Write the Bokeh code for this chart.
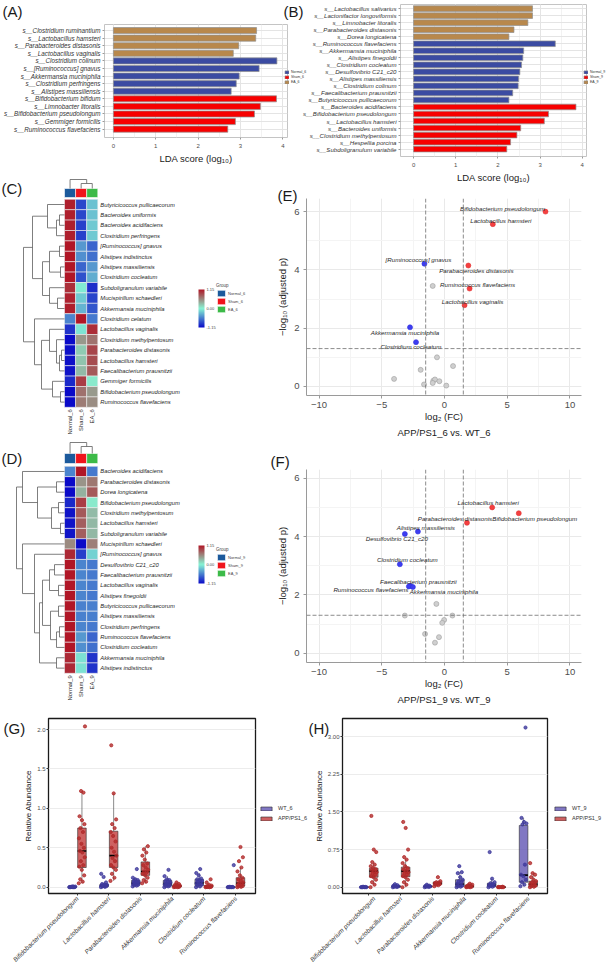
import math
from bokeh.plotting import figure
from bokeh.layouts import row, column
from bokeh.models import (ColumnDataSource, Range1d, FixedTicker, SingleIntervalTicker,
                          Legend, LegendItem, ColorBar, LinearColorMapper,
                          NumeralTickFormatter, Span, Title)
from bokeh.core.properties import value
from bokeh.embed import file_html
from bokeh.resources import INLINE

FONT = "Liberation Sans"
INK = "#1a1a1a"
TICK_INK = "#4d4d4d"

# ---------------- (A) LEfSe LDA scores, 6-month groups ----------------
lda6_taxa = [
    "s__Clostridium ruminantium", "s__Lactobacillus hamsteri",
    "s__Parabacteroides distasonis", "s__Lactobacillus vaginalis",
    "s__Clostridium colinum", "s__[Ruminococcus] gnavus",
    "s__Akkermansia muciniphila", "s__Clostridium perfringens",
    "s__Alistipes massiliensis", "s__Bifidobacterium bifidum",
    "s__Limnobacter litoralis", "s__Bifidobacterium pseudolongum",
    "s__Gemmiger formicilis", "s__Ruminococcus flavefaciens",
]
lda6_score = [3.38, 3.36, 2.96, 2.83, 3.86, 3.44, 2.97, 2.90, 2.78,
              3.85, 3.47, 3.33, 2.88, 2.70]
lda6_group = ["EA_6", "EA_6", "EA_6", "EA_6",
              "Normal_6", "Normal_6", "Normal_6", "Normal_6", "Normal_6",
              "Sham_6", "Sham_6", "Sham_6", "Sham_6", "Sham_6"]

# ---------------- (B) LEfSe LDA scores, 9-month groups ----------------
lda9_taxa = [
    "s__Lactobacillus salivarius", "s__Lactonifactor longoviformis",
    "s__Limnobacter litoralis", "s__Parabacteroides distasonis",
    "s__Dorea longicatena", "s__Ruminococcus flavefaciens",
    "s__Akkermansia muciniphila", "s__Alistipes finegoldii",
    "s__Clostridium cocleatum", "s__Desulfovibrio C21_c20",
    "s__Alistipes massiliensis", "s__Clostridium colinum",
    "s__Faecalibacterium prausnitzii", "s__Butyricicoccus pullicaecorum",
    "s__Bacteroides acidifaciens", "s__Bifidobacterium pseudolongum",
    "s__Lactobacillus hamsteri", "s__Bacteroides uniformis",
    "s__Clostridium methylpentosum", "s__Hespellia porcina",
    "s__Subdoligranulum variabile",
]
lda9_score = [2.82, 2.82, 2.71, 2.38, 2.26,
              3.36, 2.61, 2.59, 2.56, 2.52, 2.49, 2.48, 2.35, 2.26,
              3.85, 3.20, 3.10, 2.54, 2.45, 2.30, 2.21]
lda9_group = ["EA_9", "EA_9", "EA_9", "EA_9", "EA_9",
              "Normal_9", "Normal_9", "Normal_9", "Normal_9", "Normal_9",
              "Normal_9", "Normal_9", "Normal_9", "Normal_9",
              "Sham_9", "Sham_9", "Sham_9", "Sham_9", "Sham_9", "Sham_9", "Sham_9"]

# ---------------- (C) row-scaled abundance heatmap, 6 months ----------------
heat6_cols = ["Normal_6", "Sham_6", "EA_6"]
heat6_taxa = [
    "Butyricicoccus pullicaecorum", "Bacteroides uniformis", "Bacteroides acidifaciens",
    "Clostridium perfringens", "[Ruminococcus] gnavus", "Alistipes indistinctus",
    "Alistipes massiliensis", "Clostridium cocleatum", "Subdoligranulum variabile",
    "Mucispirillum schaedleri", "Akkermansia muciniphila", "Clostridium celatum",
    "Lactobacillus vaginalis", "Clostridium methylpentosum", "Parabacteroides distasonis",
    "Lactobacillus hamsteri", "Faecalibacterium prausnitzii", "Gemmiger formicilis",
    "Bifidobacterium pseudolongum", "Ruminococcus flavefaciens",
]
heat6_z = [
    [1.10, -0.85, -0.25], [1.10, -0.85, -0.25], [1.10, -0.88, -0.22], [1.10, -0.88, -0.22],
    [1.15, -0.45, -0.70], [1.15, -0.50, -0.65], [1.15, -0.70, -0.45], [1.15, -0.80, -0.35],
    [1.02, -0.05, -0.97], [1.08, -0.22, -0.86], [1.10, -0.32, -0.78], [-0.55, 1.15, -0.60],
    [-0.95, -0.08, 1.03], [-1.15, 0.48, 0.67], [-1.12, 0.22, 0.90], [-1.12, 0.25, 0.87],
    [-1.10, 0.30, 0.80], [-1.00, 0.95, 0.05], [-1.15, 0.68, 0.47], [-1.15, 0.62, 0.53],
]
# hierarchical merges: (child a, child b, merge height); new nodes numbered from n upwards
heat6_row_tree = [
    (1, 2, 5), (20, 3, 8), (0, 21, 17), (4, 5, 5), (6, 7, 4), (23, 24, 15),
    (9, 10, 7), (8, 26, 15), (25, 27, 22), (22, 28, 32), (14, 15, 3), (30, 16, 5),
    (13, 31, 8), (12, 32, 15), (18, 19, 4), (17, 34, 12), (33, 35, 23), (11, 36, 30),
    (29, 37, 41),
]
heat6_col_tree = [(1, 2, 5), (0, 3, 9)]

# ---------------- (D) row-scaled abundance heatmap, 9 months ----------------
heat9_cols = ["Normal_9", "Sham_9", "EA_9"]
heat9_taxa = [
    "Bacteroides acidifaciens", "Parabacteroides distasonis", "Dorea longicatena",
    "Bifidobacterium pseudolongum", "Clostridium methylpentosum", "Lactobacillus hamsteri",
    "Subdoligranulum variabile", "Mucispirillum schaedleri", "[Ruminococcus] gnavus",
    "Desulfovibrio C21_c20", "Faecalibacterium prausnitzii", "Lactobacillus vaginalis",
    "Alistipes finegoldii", "Butyricicoccus pullicaecorum", "Alistipes massiliensis",
    "Clostridium perfringens", "Ruminococcus flavefaciens", "Clostridium cocleatum",
    "Akkermansia muciniphila", "Alistipes indistinctus",
]
heat9_z = [
    [-0.55, 1.15, -0.60], [-1.15, 0.50, 0.65], [-1.15, 0.35, 0.80], [-1.00, 0.95, 0.05],
    [-1.10, 0.80, 0.30], [-1.10, 0.78, 0.32], [-1.10, 0.78, 0.32], [0.55, -1.15, 0.60],
    [1.05, -0.88, -0.17], [1.15, -0.55, -0.60], [1.15, -0.55, -0.60], [1.15, -0.55, -0.60],
    [1.15, -0.55, -0.60], [1.15, -0.57, -0.58], [1.15, -0.57, -0.58], [1.15, -0.55, -0.60],
    [1.15, -0.45, -0.70], [1.15, -0.50, -0.65], [1.05, -0.10, -0.95], [1.05, -0.10, -0.95],
]
heat9_row_tree = [
    (1, 2, 8), (3, 4, 6), (5, 6, 4), (21, 22, 13), (20, 23, 27), (0, 24, 42),
    (9, 10, 10), (11, 12, 6), (26, 27, 15), (13, 14, 6), (15, 16, 5), (30, 17, 8),
    (29, 31, 14), (28, 32, 22), (18, 19, 8), (33, 34, 25), (8, 35, 30), (7, 36, 42),
    (25, 37, 48),
]
heat9_col_tree = [(1, 2, 7), (0, 3, 11)]

# ---------------- (E)/(F) volcano plots ----------------
vol6_taxa = ["Bifidobacterium pseudolongum", "Lactobacillus hamsteri", "[Ruminococcus] gnavus",
             "Parabacteroides distasonis", "Ruminococcus flavefaciens", "Lactobacillus vaginalis",
             "Akkermansia muciniphila", "Clostridium cocleatum",
             "", "", "", "", "", "", "", "", "", "", ""]
vol6_log2fc = [8.05, 3.85, -1.60, 1.90, 2.00, 1.60, -2.75, -2.27,
               -0.94, -0.60, 0.68, -1.90, -4.02, -1.63, -0.89, -0.76, -0.41, -0.94, 0.14]
vol6_nlog10p = [6.00, 5.57, 4.21, 4.15, 3.36, 2.79, 2.03, 1.52,
                3.45, 1.00, 0.70, 0.57, 0.26, 0.07, 0.20, 0.24, 0.18, 0.12, 0.03]
vol6_label_dx = [-43, 8, -6, 8, 8, 8, -5, -5, 0, 0, 0, 0, 0, 0, 0, 0, 0, 0, 0]
vol6_label_dy = [-3, -4, -4, 5, -4, -4, 5, 4.5, 0, 0, 0, 0, 0, 0, 0, 0, 0, 0, 0]

vol9_taxa = ["Lactobacillus hamsteri", "Bifidobacterium pseudolongum", "Parabacteroides distasonis",
             "Alistipes massiliensis", "Desulfovibrio C21_c20", "Clostridium cocleatum",
             "Faecalibacterium prausnitzii", "Ruminococcus flavefaciens", "Akkermansia muciniphila",
             "", "", "", "", "", "", "", ""]
vol9_log2fc = [3.80, 5.92, 1.79, -2.12, -3.16, -3.56, -2.73, -2.84, -2.52,
               -0.65, -3.16, 0.63, -0.03, -0.18, -1.55, -0.44, -0.76]
vol9_nlog10p = [5.00, 4.80, 4.47, 4.17, 4.09, 3.05, 2.31, 2.29, 2.27,
                1.69, 1.29, 1.29, 1.14, 1.04, 0.66, 0.55, 0.36]
vol9_label_dx = [-4, 16, -12, 8, -8, 7.5, 8, -38, 31, 0, 0, 0, 0, 0, 0, 0, 0]
vol9_label_dy = [-5, 5, -4.6, -4, 5, -4.7, -4.3, 3, 5, 0, 0, 0, 0, 0, 0, 0, 0]

FC_CUT = 1.5
P_CUT = 1.3  # -log10(0.05)

# ---------------- (G)/(H) relative abundance box plots ----------------
box_species = ["Bifidobacterium pseudolongum", "Lactobacillus hamsteri",
               "Parabacteroides distasonis", "Akkermansia muciniphila",
               "Clostridium cocleatum", "Ruminococcus flavefaciens"]

# per species: (q1, median, q3, lower whisker, upper whisker)
box6_wt = [(0.0, 0.001, 0.005, 0.0, 0.01), (0.01, 0.02, 0.035, 0.0, 0.06),
           (0.03, 0.05, 0.085, 0.01, 0.12), (0.02, 0.045, 0.085, 0.0, 0.14),
           (0.02, 0.055, 0.10, 0.0, 0.18), (0.0, 0.001, 0.003, 0.0, 0.005)]
box6_app = [(0.25, 0.46, 0.75, 0.05, 1.22), (0.25, 0.40, 0.71, 0.08, 1.19),
            (0.15, 0.20, 0.32, 0.05, 0.52), (0.004, 0.012, 0.025, 0.0, 0.06),
            (0.002, 0.008, 0.02, 0.0, 0.04), (0.015, 0.05, 0.12, 0.0, 0.25)]
pts6_wt = [
    [0.0, 0.0, 0.0, 0.001, 0.002, 0.003, 0.004, 0.006, 0.008, 0.01],
    [0.0, 0.005, 0.01, 0.012, 0.015, 0.02, 0.022, 0.025, 0.03, 0.035, 0.04, 0.06, 0.13, 0.17],
    [0.01, 0.02, 0.025, 0.03, 0.04, 0.045, 0.05, 0.055, 0.06, 0.07, 0.08, 0.09, 0.10, 0.12, 0.23],
    [0.0, 0.01, 0.015, 0.02, 0.03, 0.035, 0.04, 0.05, 0.06, 0.07, 0.08, 0.09, 0.10, 0.14, 0.22],
    [0.0, 0.01, 0.02, 0.03, 0.04, 0.05, 0.06, 0.07, 0.08, 0.09, 0.10, 0.11, 0.15, 0.18, 0.23],
    [0.0, 0.0, 0.0, 0.0, 0.001, 0.002, 0.003, 0.005, 0.28],
]
pts6_app = [
    [0.05, 0.07, 0.10, 0.15, 0.22, 0.26, 0.28, 0.33, 0.38, 0.44, 0.46, 0.50, 0.55, 0.62,
     0.70, 0.75, 0.80, 0.85, 0.90, 1.20, 1.22, 2.04],
    [0.08, 0.12, 0.17, 0.22, 0.25, 0.28, 0.33, 0.37, 0.40, 0.45, 0.50, 0.58, 0.65, 0.70,
     0.75, 0.80, 0.86, 1.19, 1.80],
    [0.05, 0.07, 0.09, 0.12, 0.15, 0.17, 0.19, 0.20, 0.22, 0.25, 0.28, 0.30, 0.35, 0.40,
     0.44, 0.48, 0.52],
    [0.0, 0.0, 0.003, 0.005, 0.008, 0.01, 0.012, 0.015, 0.02, 0.025, 0.03, 0.04, 0.06],
    [0.0, 0.0, 0.002, 0.004, 0.005, 0.008, 0.01, 0.015, 0.02, 0.03, 0.06, 0.10],
    [0.0, 0.005, 0.01, 0.015, 0.02, 0.03, 0.04, 0.05, 0.06, 0.08, 0.10, 0.12, 0.15, 0.20,
     0.25, 0.33, 0.38, 0.51],
]

box9_wt = [(0.0, 0.001, 0.004, 0.0, 0.01), (0.005, 0.015, 0.03, 0.0, 0.06),
           (0.008, 0.015, 0.025, 0.0, 0.05), (0.02, 0.06, 0.15, 0.0, 0.30),
           (0.015, 0.04, 0.08, 0.0, 0.17), (0.10, 0.24, 1.23, 0.02, 1.38)]
box9_app = [(0.20, 0.32, 0.38, 0.05, 0.50), (0.21, 0.32, 0.40, 0.0, 0.56),
            (0.055, 0.08, 0.105, 0.02, 0.12), (0.005, 0.015, 0.04, 0.0, 0.07),
            (0.0, 0.002, 0.005, 0.0, 0.01), (0.02, 0.06, 0.12, 0.0, 0.28)]
pts9_wt = [
    [0.0, 0.0, 0.0, 0.001, 0.002, 0.003, 0.005, 0.01],
    [0.0, 0.005, 0.01, 0.015, 0.02, 0.03, 0.04, 0.06],
    [0.0, 0.005, 0.01, 0.015, 0.02, 0.025, 0.03, 0.05],
    [0.0, 0.01, 0.02, 0.03, 0.05, 0.07, 0.10, 0.12, 0.15, 0.20, 0.28, 0.30, 0.42],
    [0.0, 0.01, 0.02, 0.03, 0.04, 0.05, 0.06, 0.08, 0.10, 0.17, 0.70],
    [0.02, 0.05, 0.10, 0.15, 0.22, 0.25, 0.45, 1.25, 1.27, 1.30, 1.38, 3.18],
]
pts9_app = [
    [0.0, 0.05, 0.10, 0.15, 0.20, 0.22, 0.25, 0.28, 0.30, 0.32, 0.34, 0.36, 0.38, 0.42,
     0.45, 0.50, 0.70, 0.75, 1.42],
    [0.0, 0.05, 0.10, 0.15, 0.20, 0.22, 0.25, 0.28, 0.30, 0.32, 0.35, 0.38, 0.42, 0.48,
     0.55, 0.60, 0.75, 1.18, 1.30],
    [0.02, 0.04, 0.05, 0.06, 0.07, 0.08, 0.09, 0.10, 0.12, 0.20],
    [0.0, 0.0, 0.005, 0.01, 0.015, 0.02, 0.03, 0.04, 0.05, 0.07],
    [0.0, 0.0, 0.0, 0.002, 0.004, 0.006, 0.01],
    [0.0, 0.01, 0.02, 0.03, 0.05, 0.06, 0.08, 0.10, 0.12, 0.15, 0.20, 0.25, 0.28, 0.48],
]

# ---------------- shared styling ----------------
GROUP_COLOR = {"Normal": "#3b4ba2", "Sham": "#f70000", "EA": "#b8884c"}
ANNOT_COLOR = {"Normal": "#1c5a9c", "Sham": "#f0141c", "EA": "#3cba48"}
WT_FILL, WT_DOT = "#6a5fb8", "#3f3a9c"
APP_FILL, APP_DOT = "#c64545", "#b22b2b"


def blend(c1, c2, t):
    return "#%02x%02x%02x" % tuple(int(round(a + (b - a) * t)) for a, b in zip(c1, c2))


HEAT_LOW, HEAT_MID, HEAT_HIGH = (10, 10, 200), (135, 245, 212), (176, 22, 38)
HEAT_PALETTE = ([blend(HEAT_LOW, HEAT_MID, k / 127) for k in range(128)] +
                [blend(HEAT_MID, HEAT_HIGH, k / 127) for k in range(1, 128)])


def bare(p):
    p.title.visible = False
    p.title.standoff = 0
    p.title.text_font_size = "0px"
    p.border_fill_alpha = 0
    return p


def base_figure(width, height, borders, x_range, y_range, **kw):
    bl, br, bt, bb = borders
    return bare(figure(width=width, height=height, x_range=x_range, y_range=y_range,
                       output_backend="svg", toolbar_location=None, frame_align=False,
                       min_border_left=bl, min_border_right=br,
                       min_border_top=bt, min_border_bottom=bb, **kw))


def style_axes(p, tick_size, title_size):
    for ax in p.axis:
        ax.major_label_text_font = FONT
        ax.axis_label_text_font = FONT
        ax.major_label_text_font_size = tick_size
        ax.axis_label_text_font_size = title_size
        ax.axis_label_text_font_style = "normal"
        ax.major_label_text_color = TICK_INK
        ax.axis_label_text_color = INK
        ax.minor_tick_line_color = None
        ax.major_tick_in = 0


def lda_panel(taxa, scores, groups, width, height, borders, x_range, y_range, label_size):
    n = len(taxa)
    ypos = [n - 1 - i for i in range(n)]
    p = base_figure(width, height, borders, Range1d(*x_range), Range1d(*y_range))
    src = ColumnDataSource(dict(y=ypos, score=scores, group=groups,
                                color=[GROUP_COLOR[g.split("_")[0]] for g in groups]))
    p.hbar(y="y", left=0, right="score", height=0.8, fill_color="color",
           line_color="#8f8f8f", line_width=0.7, source=src)
    p.xaxis.ticker = SingleIntervalTicker(interval=1, num_minor_ticks=2)
    p.xaxis.axis_label = "LDA score (log₁₀)"
    p.yaxis.ticker = FixedTicker(ticks=ypos)
    p.yaxis.major_label_overrides = {y: t for y, t in zip(ypos, taxa)}
    style_axes(p, label_size, "9.5px")
    p.yaxis.major_label_text_font_style = "italic"
    p.yaxis.major_label_text_color = "#333333"
    p.xaxis.major_label_text_font_size = "6px"
    for ax in p.axis:
        ax.axis_line_color = None
        ax.major_tick_line_color = "#9a9a9a"
        ax.major_tick_out = 2
        ax.major_label_standoff = 2
    p.xaxis.axis_label_standoff = 2
    p.grid.grid_line_color = "#e4e4e4"
    p.xgrid.minor_grid_line_color = "#f2f2f2"
    p.outline_line_color = "#c4c4c4"
    return p


def dendrogram_segments(merges, leaf_pos):
    pos = list(leaf_pos)
    hgt = [0.0] * len(leaf_pos)
    seg = {"p0": [], "h0": [], "p1": [], "h1": []}
    for a, b, h in merges:
        for c in (a, b):
            seg["p0"].append(pos[c]); seg["h0"].append(hgt[c])
            seg["p1"].append(pos[c]); seg["h1"].append(h)
        seg["p0"].append(pos[a]); seg["h0"].append(h)
        seg["p1"].append(pos[b]); seg["h1"].append(h)
        pos.append((pos[a] + pos[b]) / 2.0)
        hgt.append(h)
    return seg


def heatmap_panel(taxa, cols, z, row_tree, col_tree, height, row_h, heat_top,
                  ann_gap, ann_h, cbar_xy, legend_xy):
    W, HM_LEFT, CW = 268, 64, 11.1
    n, m = len(taxa), len(cols)
    y_end = n + heat_top / row_h
    p = bare(figure(width=W, height=height, output_backend="svg", toolbar_location=None,
                    x_range=Range1d(-HM_LEFT / CW, (W - HM_LEFT) / CW),
                    y_range=Range1d(y_end - height / row_h, y_end),
                    x_axis_type=None, y_axis_type=None, min_border=0, frame_align=False))
    p.outline_line_color = None
    p.background_fill_alpha = 0
    mapper = LinearColorMapper(palette=HEAT_PALETTE, low=-1.15, high=1.15)
    cx, cy, cz = [], [], []
    for i, vals in enumerate(z):
        for j, v in enumerate(vals):
            cx.append(j + 0.5); cy.append(n - 1 - i + 0.5); cz.append(v)
    p.rect(x="x", y="y", width=1, height=1, source=ColumnDataSource(dict(x=cx, y=cy, z=cz)),
           fill_color={"field": "z", "transform": mapper}, line_color="#eeeeee", line_width=0.6)

    # group annotation strip above the columns
    a0 = n + ann_gap / row_h
    a1 = a0 + ann_h / row_h
    ann_src = ColumnDataSource(dict(x=[j + 0.5 for j in range(m)], label=cols,
                                    color=[ANNOT_COLOR[c.split("_")[0]] for c in cols]))
    ann = p.rect(x="x", y=(a0 + a1) / 2, width=1, height=a1 - a0, fill_color="color",
                 line_color="white", line_width=0.6, source=ann_src)

    # dendrograms
    rs = dendrogram_segments(row_tree, [n - 1 - i + 0.5 for i in range(n)])
    p.segment(x0=[-h / CW for h in rs["h0"]], y0=rs["p0"], x1=[-h / CW for h in rs["h1"]],
              y1=rs["p1"], line_color="#5e5e5e", line_width=0.8)
    cs = dendrogram_segments(col_tree, [j + 0.5 for j in range(m)])
    p.segment(x0=cs["p0"], y0=[a1 + h / row_h for h in cs["h0"]], x1=cs["p1"],
              y1=[a1 + h / row_h for h in cs["h1"]], line_color="#5e5e5e", line_width=0.8)

    # labels
    p.text(x=m, y=[n - 1 - i + 0.5 for i in range(n)], text=taxa, x_offset=2.5,
           text_baseline="middle", text_align="left", text_font=value(FONT),
           text_font_style="italic", text_font_size="5.8px", text_color="#262626")
    p.text(x=[j + 0.5 for j in range(m)], y=0, text=cols, angle=math.pi / 2, y_offset=2,
           text_align="right", text_baseline="middle", text_font=value(FONT),
           text_font_size="5.8px", text_color="#262626")

    p.add_layout(ColorBar(color_mapper=mapper, location=cbar_xy, orientation="vertical",
                          width=6, height=38, padding=0, margin=0,
                          ticker=FixedTicker(ticks=[-1.149, 0.0, 1.149]),
                          formatter=NumeralTickFormatter(format="0.00"),
                          major_label_text_font_size="4px", major_label_text_font=FONT,
                          label_standoff=2, major_tick_line_color=None, bar_line_color=None,
                          border_line_color=None, background_fill_alpha=0))
    items = [LegendItem(label=c, renderers=[ann], index=j) for j, c in enumerate(cols)]
    p.add_layout(Legend(items=items, location=legend_xy, title="Group",
                        title_text_font_size="4.5px", title_text_font_style="normal",
                        title_text_font=FONT, title_standoff=1,
                        glyph_width=10, glyph_height=8, label_height=8, label_width=10,
                        spacing=0, padding=0, margin=0, label_standoff=2,
                        label_text_font_size="4px", label_text_font=FONT,
                        background_fill_alpha=0, border_line_color=None))
    return p


def volcano_panel(taxa, fc, nlp, dx, dy, subtitle, height, borders, y_range):
    p = base_figure(338, height, borders, Range1d(-11.0, 10.92), Range1d(*y_range))
    fill, line = [], []
    for f, y in zip(fc, nlp):
        if y > P_CUT and f > FC_CUT:
            fill.append("#f44040"); line.append("#e03030")
        elif y > P_CUT and f < -FC_CUT:
            fill.append("#3d3df0"); line.append("#3030dd")
        else:
            fill.append("#cfcfcf"); line.append("#9e9e9e")
    for loc, dim in ((-FC_CUT, "height"), (FC_CUT, "height"), (P_CUT, "width")):
        p.add_layout(Span(location=loc, dimension=dim, line_color="#6e6e6e",
                          line_dash="4 2", line_width=0.8))
    p.scatter(x=fc, y=nlp, size=5, fill_color=fill, line_color=line, line_width=0.6)
    lab = [i for i, t in enumerate(taxa) if t]
    p.text(x=[fc[i] for i in lab], y=[nlp[i] for i in lab], text=[taxa[i] for i in lab],
           x_offset=[dx[i] for i in lab], y_offset=[dy[i] for i in lab],
           text_align="center", text_baseline="middle", text_font=value(FONT),
           text_font_style="italic", text_font_size="6.2px", text_color="#262626")
    p.xaxis.ticker = SingleIntervalTicker(interval=5, num_minor_ticks=2)
    p.yaxis.ticker = SingleIntervalTicker(interval=2, num_minor_ticks=2)
    p.xaxis.axis_label = "log₂ (FC)"
    p.yaxis.axis_label = "−log₁₀ (adjusted p)"
    style_axes(p, "9.5px", "9.5px")
    for ax in p.axis:
        ax.axis_line_color = "#9a9a9a"
        ax.major_tick_line_color = "#9a9a9a"
        ax.major_tick_out = 3
        ax.major_label_standoff = 3
        ax.axis_label_standoff = 3
    p.xaxis.major_label_standoff = 2
    p.xaxis.axis_label_standoff = 0
    p.grid.grid_line_color = "#e9e9e9"
    p.grid.minor_grid_line_color = "#f4f4f4"
    p.outline_line_color = None
    p.add_layout(Title(text=subtitle, align="center", text_font_size="9.5px",
                       text_font_style="normal", text_font=FONT, text_color=INK,
                       standoff=0), "below")
    return p


def jitter(k):
    return ((k * 0.6180339887) % 1.0 - 0.5) * 0.2


def box_panel(species, wt_pts, app_pts, wt_box, app_box, width, borders,
              x_range, y_range, yticks, yfmt):
    p = base_figure(width, 263, borders, Range1d(*x_range), Range1d(*y_range))
    cats = list(range(1, len(species) + 1))
    DODGE, HALF = 0.15, 0.135
    specs = ((wt_pts, wt_box, -DODGE, WT_FILL, WT_DOT),
             (app_pts, app_box, DODGE, APP_FILL, APP_DOT))
    for pts, box, shift, fill, dot in specs:
        xc = [c + shift for c in cats]
        q1 = [b[0] for b in box]; med = [b[1] for b in box]; q3 = [b[2] for b in box]
        lo = [b[3] for b in box]; hi = [b[4] for b in box]
        p.segment(x0=xc, y0=q3, x1=xc, y1=hi, line_color="#3a3a3a", line_width=0.6)
        p.segment(x0=xc, y0=q1, x1=xc, y1=lo, line_color="#3a3a3a", line_width=0.6)
        p.quad(left=[x - HALF for x in xc], right=[x + HALF for x in xc], bottom=q1, top=q3,
               fill_color=fill, fill_alpha=0.85, line_color="#2b2b2b", line_width=0.6)
        p.segment(x0=[x - HALF for x in xc], y0=med, x1=[x + HALF for x in xc], y1=med,
                  line_color="black", line_width=1.6)
        px, py = [], []
        for x, vals in zip(xc, pts):
            for k, v in enumerate(vals):
                px.append(x + jitter(k)); py.append(v)
        p.scatter(x=px, y=py, size=3.2, fill_color=dot, line_color=dot, alpha=0.8)
    p.xaxis.ticker = FixedTicker(ticks=cats)
    p.xaxis.major_label_overrides = {c: s for c, s in zip(cats, species)}
    p.xaxis.major_label_orientation = math.pi / 4
    p.yaxis.ticker = FixedTicker(ticks=yticks)
    p.yaxis.formatter = NumeralTickFormatter(format=yfmt)
    p.yaxis.axis_label = "Relative Abundance"
    style_axes(p, "6.5px", "8px")
    p.yaxis.major_label_text_font_size = "6px"
    p.xaxis.major_label_text_font_style = "italic"
    p.xaxis.major_label_text_color = "#333333"
    for ax in p.axis:
        ax.axis_line_color = None
        ax.major_tick_line_color = "#333333"
        ax.major_tick_out = 2
        ax.major_label_standoff = 2
    p.yaxis.major_label_standoff = 1
    p.yaxis.axis_label_standoff = 1
    p.xgrid.grid_line_color = None
    p.ygrid.grid_line_color = "#ececec"
    p.outline_line_color = "#1a1a1a"
    p.outline_line_width = 1.3
    return p


# ---------------- assemble panels ----------------
pA = lda_panel(lda6_taxa, lda6_score, lda6_group, 300, 185, (101, 13, 24, 48),
               (-0.21, 4.11), (-1.1, 13.8), "6.3px")
pB = lda_panel(lda9_taxa, lda9_score, lda9_group, 306, 185, (97, 20, 4, 22),
               (-0.31, 4.10), (-1.05, 20.585), "6.1px")

pC = heatmap_panel(heat6_taxa, heat6_cols, heat6_z, heat6_row_tree, heat6_col_tree,
                   260, 10.4, 20.8, 1.8, 9, (198, 111), (216, 125))
pD = heatmap_panel(heat9_taxa, heat9_cols, heat9_z, heat9_row_tree, heat9_col_tree,
                   267, 10.35, 27.8, 2.8, 10, (198, 122), (216, 128))

pE = volcano_panel(vol6_taxa, vol6_log2fc, vol6_nlog10p, vol6_label_dx, vol6_label_dy,
                   "APP/PS1_6 vs. WT_6", 260, (38, 25, 20, 43), (-0.31, 6.45))
pF = volcano_panel(vol9_taxa, vol9_log2fc, vol9_nlog10p, vol9_label_dx, vol9_label_dy,
                   "APP/PS1_9 vs. WT_9", 267, (38, 25, 31, 43), (-0.32, 6.30))

pG = box_panel(box_species, pts6_wt, pts6_app, box6_wt, box6_app,
               308, (48, 53, 13, 75), (0.095, 6.625), (-0.08, 2.14),
               [0.0, 0.5, 1.0, 1.5, 2.0], "0.0")
pH = box_panel(box_species, pts9_wt, pts9_app, box9_wt, box9_app,
               298, (34, 59, 13, 75), (0.17, 6.6), (-0.125, 3.36),
               [0.0, 0.75, 1.5, 2.25, 3.0], "0.00")

# ---------------- page-level layer: panel letters and group keys ----------------
# A transparent full-page canvas laid over the grid of panels, so that letters and
# group keys can sit across the borders between neighbouring panels.
PAGE_W, PAGE_H = 606, 968
page = bare(figure(width=PAGE_W, height=PAGE_H, x_range=Range1d(0, PAGE_W),
                   y_range=Range1d(PAGE_H, 0), x_axis_type=None, y_axis_type=None,
                   min_border=0, output_backend="svg", toolbar_location=None,
                   frame_align=False, margin=(-PAGE_H, 0, 0, 0)))
page.outline_line_color = None
page.background_fill_alpha = 0

letters = ["(A)", "(B)", "(C)", "(D)", "(E)", "(F)", "(G)", "(H)"]
letter_x = [2, 283, 1, 1, 277, 270, 3, 308]
letter_y = [10.5, 10.5, 188, 457.5, 195, 460.5, 727.5, 727.5]
page.text(x=letter_x, y=letter_y, text=letters, text_font=value(FONT),
          text_font_size="15px", text_baseline="middle", text_align="left", text_color=INK)


def group_key(labels, fills, lines, alpha, location, glyph_w, glyph_h, font_size, spacing, standoff):
    # swatch-only renderers (no drawable data) that give the key its colours
    items = []
    for lab, fc, lc in zip(labels, fills, lines):
        r = page.rect(x=[math.nan], y=[math.nan], width=1, height=1, fill_color=fc,
                      fill_alpha=alpha, line_color=lc, line_width=0.6)
        items.append(LegendItem(label=lab, renderers=[r]))
    page.add_layout(Legend(items=items, location=location, glyph_width=glyph_w,
                           glyph_height=glyph_h, label_height=glyph_h, label_width=10,
                           spacing=spacing, padding=0, margin=0, label_standoff=standoff,
                           label_text_font_size=font_size, label_text_font=FONT,
                           label_text_color="#333333",
                           background_fill_alpha=0, border_line_color=None))


def first_of(groups, prefix):
    return [g for g in groups if g.startswith(prefix)][0]


for groups, x in ((lda6_group, 284), (lda9_group, 583)):
    names = [first_of(groups, k) for k in ("Normal", "Sham", "EA")]
    group_key(names, [GROUP_COLOR[k] for k in ("Normal", "Sham", "EA")], ["#8f8f8f"] * 3, 1.0,
              (x, PAGE_H - 84), 5, 4, "3.5px", 1, 2)
group_key(["WT_6", "APP/PS1_6"], [WT_FILL, APP_FILL], ["#2b2b2b"] * 2, 0.85,
          (259, PAGE_H - 821), 14, 5, "5.5px", 4, 5)
group_key(["WT_9", "APP/PS1_9"], [WT_FILL, APP_FILL], ["#2b2b2b"] * 2, 0.85,
          (553, PAGE_H - 821), 14, 5, "5.5px", 4, 5)

# the heatmap/volcano row slides up under the bottom margin of the LDA row
layout = column(row(pA, pB), row(pC, pE, margin=(-7, 0, 0, 0)),
                row(pD, pF), row(pG, pH), page)

with open("out.html", "w") as f:
    f.write(file_html(layout, INLINE, "Gut microbiota"))
